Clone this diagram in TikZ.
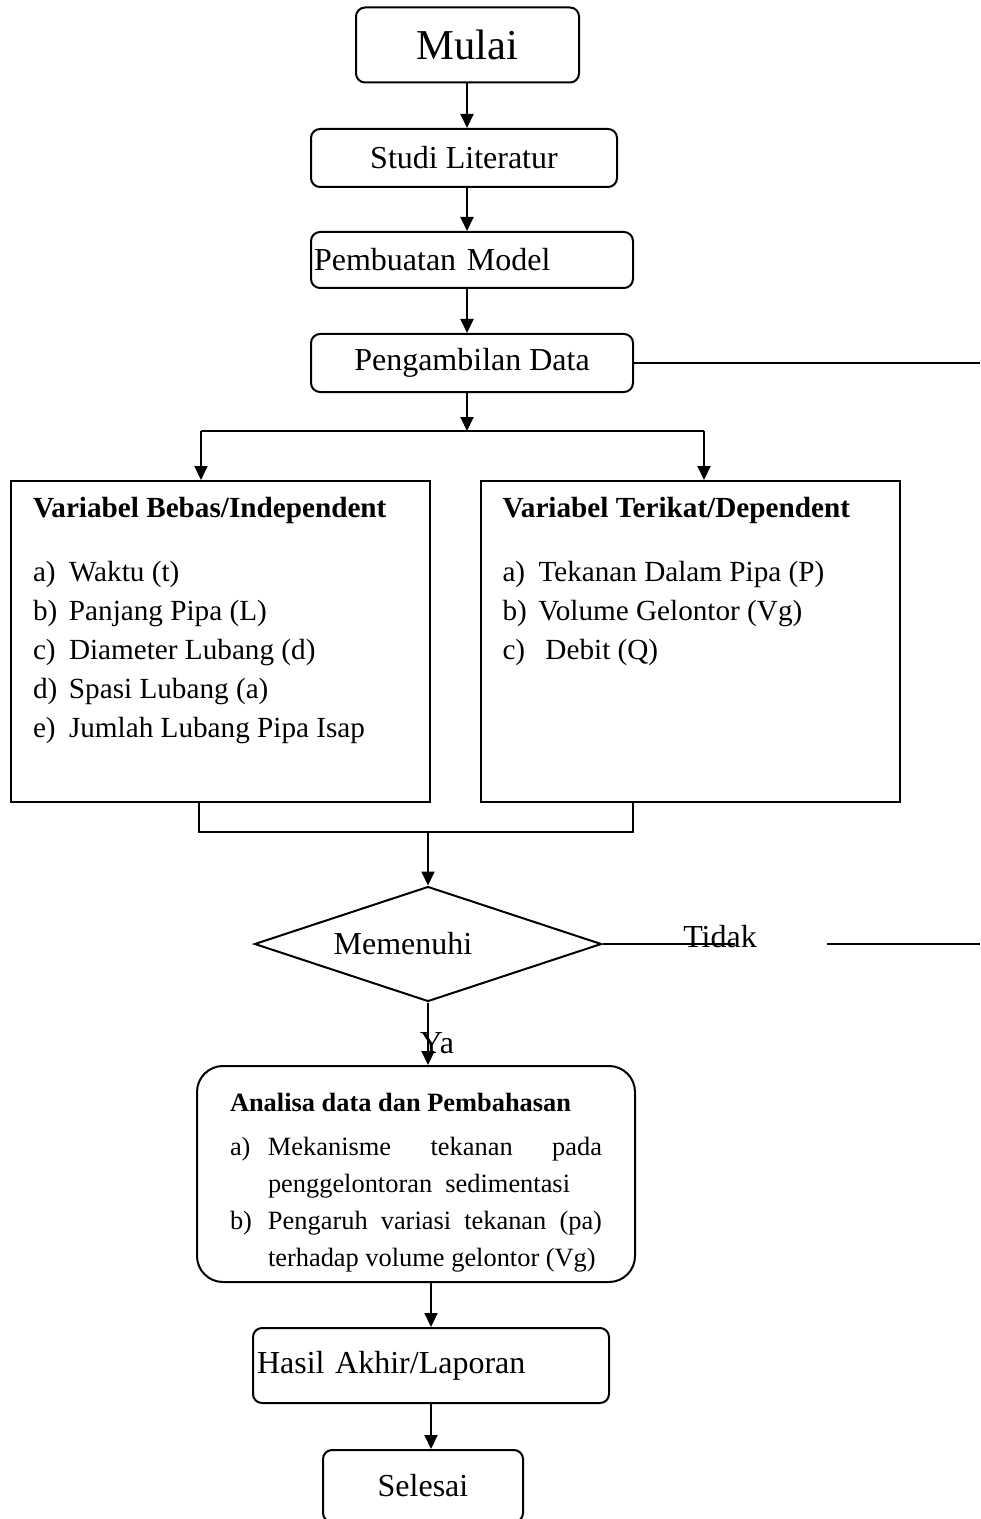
\documentclass[tikz,border=0pt]{standalone}
\usepackage{fontspec}
\setmainfont{Liberation Serif}
\usetikzlibrary{positioning,arrows.meta,shapes.geometric}

\tikzset{
  kotak/.style={draw, line width=1pt, rounded corners=4.5pt, font=\fontsize{16}{19}\selectfont},
  varkotak/.style={draw, line width=1pt, inner xsep=11pt, inner ysep=8pt, font=\fontsize{14.6}{19.5}\selectfont},
  panah/.style={line width=1pt, -{Triangle[length=7pt,width=6.5pt]}},
  garis/.style={line width=1pt},
  teks/.style={inner sep=0pt, font=\fontsize{16}{19}\selectfont}
}

\begin{document}
\begin{tikzpicture}[x=0.5pt,y=-0.5pt]
    \useasboundingbox (0,0) rectangle (980,1519);
    \clip (0,0) rectangle (980,1519);

    % Alur atas
    \node[kotak, minimum width=111.5pt, minimum height=37.5pt, font=\fontsize{21.3}{25}\selectfont] (mulai) at (467.5,45) {Mulai};
    \node[kotak, minimum width=153pt, minimum height=29pt] (studi) at (464,158) {Studi Literatur};
    \node[kotak, minimum width=161pt, minimum height=28pt, text width=158pt, inner xsep=1.5pt, align=left] (model) at (472,260) {Pembuatan Model};
    \node[kotak, minimum width=161pt, minimum height=29pt] (ambil) at (472,363) {Pengambilan Data};

    % Variabel
    \node[varkotak] (bebas) at (220.5,641.5) {\begin{minipage}[c][144.5pt][t]{187.5pt}\raggedright
        \textbf{Variabel Bebas/Independent}\\[12.5pt]
        \makebox[18pt][l]{a)}Waktu (t)\\
        \makebox[18pt][l]{b)}Panjang Pipa (L)\\
        \makebox[18pt][l]{c)}Diameter Lubang (d)\\
        \makebox[18pt][l]{d)}Spasi Lubang (a)\\
        \makebox[18pt][l]{e)}Jumlah Lubang Pipa Isap
    \end{minipage}};
    \node[varkotak] (terikat) at (690,641.5) {\begin{minipage}[c][144.5pt][t]{187.5pt}\raggedright
        \textbf{Variabel Terikat/Dependent}\\[12.5pt]
        \makebox[18pt][l]{a)}Tekanan Dalam Pipa (P)\\
        \makebox[18pt][l]{b)}Volume Gelontor (Vg)\\
        \makebox[18pt][l]{c)}\hspace{3.5pt}Debit (Q)
    \end{minipage}};

    % Keputusan
    \node[draw, diamond, line width=1pt, aspect=3, minimum width=173.5pt, minimum height=57.5pt, inner sep=0pt, font=\fontsize{16}{19}\selectfont] (memenuhi) at (428,944) {\hspace*{-25pt}Memenuhi};
    \node[teks] (tidak) at (720,937) {Tidak};
    \node[teks] (ya) at (437,1043) {Ya};

    % Alur bawah
    \node[draw, line width=1pt, rounded corners=13pt, minimum width=219pt, minimum height=108pt, inner sep=0pt, font=\fontsize{13.2}{18.5}\selectfont] (analisa) at (416,1174) {%
        \begin{tabular}{@{}p{19pt}@{}l@{}}
        \multicolumn{2}{@{}l@{}}{\rule{0pt}{21pt}\textbf{Analisa data dan Pembahasan}}\\[3.5pt]
        a) & \makebox[167pt][s]{Mekanisme tekanan pada}\\
           & penggelontoran\ \ sedimentasi\\
        b) & \makebox[167pt][s]{Pengaruh variasi tekanan (pa)}\\
           & terhadap volume gelontor (Vg)
        \end{tabular}};
    \node[kotak, minimum width=178pt, minimum height=37.5pt, text width=174pt, inner xsep=2pt, align=left] (hasil) at (431,1365.5) {Hasil Akhir/Laporan};
    \node[kotak, minimum width=100pt, minimum height=36pt] (selesai) at (423,1486) {Selesai};

    % Titik bantu
    \coordinate (pisah) at (467,431);
    \coordinate (pisahKiri) at (201,431);
    \coordinate (pisahKanan) at (704,431);
    \coordinate (gabungKiri) at (199,832);
    \coordinate (gabungKanan) at (633,832);
    \coordinate (gabung) at (428,832);
    \coordinate (tidakUjung) at (735,944);
    \coordinate (balikAwal) at (827,944);
    \coordinate (balikUjung) at (980,944);

    % Panah
    \draw[panah] (mulai.south -| pisah) -- (studi.north -| pisah);
    \draw[panah] (studi.south -| pisah) -- (model.north -| pisah);
    \draw[panah] (model.south -| pisah) -- (ambil.north -| pisah);
    \draw[panah] (ambil.south -| pisah) -- (pisah);
    \draw[garis] (pisahKiri) -- (pisahKanan);
    \draw[panah] (pisahKiri) -- (pisahKiri |- bebas.north);
    \draw[panah] (pisahKanan) -- (pisahKanan |- terikat.north);
    \draw[garis] (ambil.east) -- (ambil.east -| balikUjung);

    \draw[garis] (gabungKiri |- bebas.south) -- (gabungKiri) -- (gabungKanan) -- (gabungKanan |- terikat.south);
    \draw[panah] (gabung) -- (memenuhi.north);
    \draw[garis] (memenuhi.east) -- (tidakUjung);
    \draw[garis] (balikAwal) -- (balikUjung);

    \draw[panah] (memenuhi.south) -- (memenuhi.south |- analisa.north);
    \draw[panah] (hasil.north |- analisa.south) -- (hasil.north);
    \draw[panah] (hasil.south) -- (hasil.south |- selesai.north);
\end{tikzpicture}
\end{document}
